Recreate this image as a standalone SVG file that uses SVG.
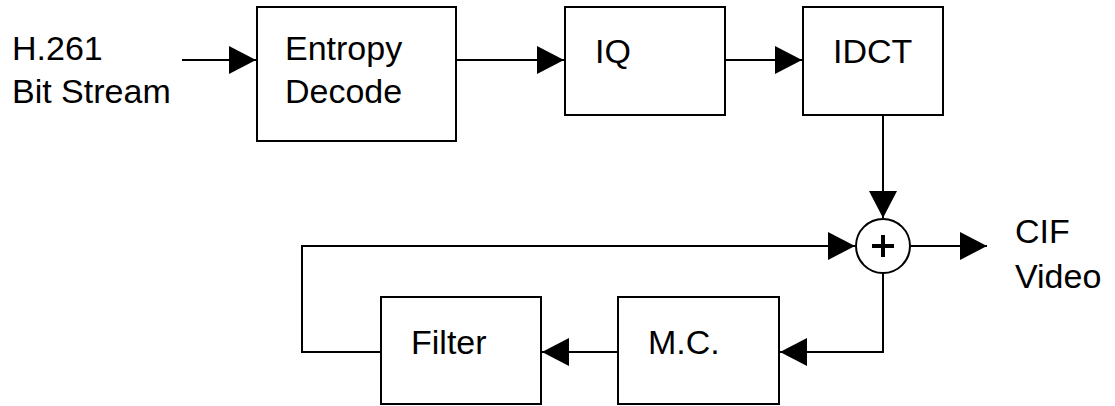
<svg xmlns="http://www.w3.org/2000/svg" width="1115" height="406" viewBox="0 0 1115 406">
<defs>
<style>
.box{fill:#fff;stroke:#000;stroke-width:2}
.lbl{font-family:"Liberation Sans",Arial,sans-serif;font-size:34px;fill:#000}
.con{fill:none;stroke:#000;stroke-width:2}
</style>
<marker id="ah" viewBox="0 0 27 28" refX="27" refY="14" markerWidth="27" markerHeight="28" markerUnits="userSpaceOnUse" orient="auto">
<path d="M0,0 L27,14 L0,28 Z" fill="#000"/>
</marker>
</defs>
<rect width="1115" height="406" fill="#fff"/>
<g id="input">
<text class="lbl" x="12" y="60">H.261</text>
<text class="lbl" x="12" y="103">Bit Stream</text>
</g>
<g id="entropy">
<rect class="box" x="257" y="7" width="199" height="134"/>
<text class="lbl" x="285" y="60">Entropy</text>
<text class="lbl" x="285" y="103">Decode</text>
</g>
<g id="iq">
<rect class="box" x="565" y="7" width="160" height="108"/>
<text class="lbl" x="595" y="63">IQ</text>
</g>
<g id="idct">
<rect class="box" x="803" y="7" width="140" height="108"/>
<text class="lbl" x="833" y="63">IDCT</text>
</g>
<g id="adder">
<circle cx="883" cy="246" r="27" fill="#fff" stroke="#000" stroke-width="2"/>
<path d="M872,246 H894 M883,235 V257" stroke="#000" stroke-width="4"/>
</g>
<g id="filter">
<rect class="box" x="381" y="297" width="160" height="107"/>
<text class="lbl" x="411" y="354">Filter</text>
</g>
<g id="mc">
<rect class="box" x="618" y="297" width="161" height="107"/>
<text class="lbl" x="648" y="354">M.C.</text>
</g>
<g id="output">
<text class="lbl" x="1015" y="243">CIF</text>
<text class="lbl" x="1015" y="288">Video</text>
</g>
<g id="connectors">
<path class="con" d="M182,60 H256" marker-end="url(#ah)"/>
<path class="con" d="M456,60 H564" marker-end="url(#ah)"/>
<path class="con" d="M725,60 H802" marker-end="url(#ah)"/>
<path class="con" d="M883,115 V218" marker-end="url(#ah)"/>
<path class="con" d="M381,352 H302 V246 H855" marker-end="url(#ah)"/>
<path class="con" d="M910,246 H987" marker-end="url(#ah)"/>
<path class="con" d="M883,273 V352 H780" marker-end="url(#ah)"/>
<path class="con" d="M618,352 H542" marker-end="url(#ah)"/>
</g>
</svg>
